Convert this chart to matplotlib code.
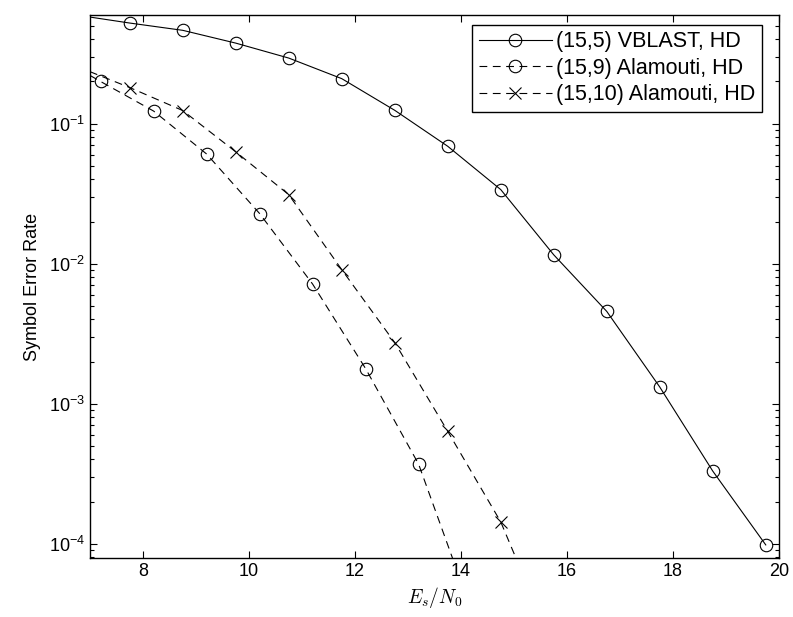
# SER vs Es/N0 for VBLAST / Alamouti, MATLAB-style figure
import matplotlib
matplotlib.use("Agg")
import matplotlib.pyplot as plt
from matplotlib.ticker import LogLocator, NullFormatter

plt.rcParams['font.family'] = ['Liberation Sans', 'DejaVu Sans']
plt.rcParams['mathtext.fontset'] = 'cm'

# values
snr_vblast = [7.0, 7.75, 8.75, 9.75, 10.75, 11.75, 12.75, 13.75, 14.75, 15.75, 16.75, 17.75, 18.75, 19.75]
ser_vblast = [0.577, 0.523, 0.464, 0.376, 0.294, 0.2096, 0.1245, 0.0689, 0.0338, 0.01156, 0.00456, 0.001315, 0.00033, 9.8e-5]

snr_ala9 = [7.0, 7.2, 8.2, 9.2, 10.2, 11.2, 12.2, 13.2, 14.2]
ser_ala9 = [0.221, 0.200, 0.123, 0.0607, 0.0228, 0.00715, 0.00178, 0.00037, 3.3e-5]

snr_ala10 = [7.0, 7.75, 8.75, 9.75, 10.75, 11.75, 12.75, 13.75, 14.75, 15.75]
ser_ala10 = [0.235, 0.181, 0.124, 0.0629, 0.0311, 0.00906, 0.00273, 0.000634, 0.000143, 1.8e-5]

labels = ['(15,5) VBLAST, HD', '(15,9) Alamouti, HD', '(15,10) Alamouti, HD']

fig = plt.figure(figsize=(7.93, 6.17), dpi=100)
ax = fig.add_axes([90 / 793, 59 / 617, 689 / 793, 543 / 617])

# markers are drawn from index 1 on (first point is just where the curve enters)
ax.semilogy(snr_vblast, ser_vblast, 'k-', lw=0.8, marker='o', ms=9, mfc='none', mew=0.8,
            markevery=slice(1, None), label=labels[0])
ax.semilogy(snr_ala9, ser_ala9, 'k--', lw=0.8, dashes=(7, 5), marker='o', ms=9, mfc='none', mew=0.8,
            markevery=slice(1, None), label=labels[1])
ax.semilogy(snr_ala10, ser_ala10, 'k--', lw=0.8, dashes=(7, 5), marker='x', ms=8, mew=0.8,
            markevery=slice(1, None), label=labels[2])

ax.set_xlim(7, 20)
ax.set_ylim(7.9e-5, 0.597)
ax.set_xticks([8, 10, 12, 14, 16, 18, 20])
ax.yaxis.set_major_locator(LogLocator(base=10, numticks=10))
ax.yaxis.set_minor_locator(LogLocator(base=10, subs=range(2, 10), numticks=20))
ax.yaxis.set_minor_formatter(NullFormatter())

ax.tick_params(which='both', direction='in', top=True, right=True, labelsize=13)
ax.tick_params(which='major', length=5, width=0.8)
ax.tick_params(which='minor', length=2.8, width=0.8)
for s in ax.spines.values():
    s.set_linewidth(1.0)

ax.set_xlabel(r'$E_s/N_0$', fontsize=14, labelpad=4)
ax.set_ylabel('Symbol Error Rate', fontsize=13, labelpad=6)

leg = ax.legend(loc='upper right', bbox_to_anchor=(762 / 793, (617 - 25) / 617),
                bbox_transform=fig.transFigure, borderaxespad=0, fontsize=15.5,
                fancybox=False, framealpha=1, edgecolor='black', handlelength=3.4,
                handletextpad=0.2, labelspacing=0.25, borderpad=0.3)
leg.get_frame().set_linewidth(1.0)

fig.savefig('out.png', dpi=100)
